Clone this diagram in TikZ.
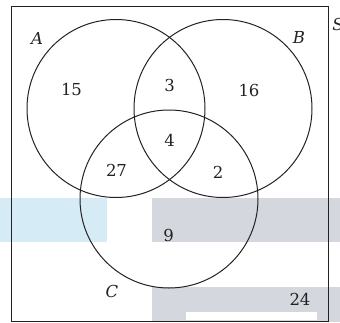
\documentclass[tikz,border=0pt]{standalone}
\usepackage{fontspec}
\setmainfont{DejaVu Serif}
\definecolor{lblue}{RGB}{213,235,245}
\definecolor{lgray}{RGB}{212,216,222}
\definecolor{ink}{RGB}{34,34,34}
\begin{document}
\begin{tikzpicture}[x=1pt,y=-1pt,
  setcircle/.style={draw=ink,line width=1pt},
  lbl/.style={text=ink,font=\fontsize{16.5}{19}\selectfont,inner sep=0pt},
  setname/.style={lbl,font=\fontsize{16.5}{19}\selectfont\itshape}]
\useasboundingbox (0,0) rectangle (340,322);
% background bands
\fill[lblue] (0,197.5) rectangle (107,241.5);
\fill[lgray] (151.5,197.5) rectangle (340,241.5);
\fill[lgray] (151.5,287) rectangle (340,322);
\fill[white] (185.5,312) rectangle (316.5,320);
% universe
\node[draw=ink,line width=1.1pt,minimum width=317pt,minimum height=314.5pt,inner sep=0pt,anchor=north west] (S) at (11,6) {};
% circles
\node[setcircle,circle,minimum size=178pt,inner sep=0pt] (cA) at (116,108.5) {};
\node[setcircle,circle,minimum size=178pt,inner sep=0pt] (cB) at (223,108.5) {};
\node[setcircle,circle,minimum size=178pt,inner sep=0pt] (cC) at (169,199) {};
% labels
\node[setname] (lA) at (37,38) {A};
\node[setname] (lB) at (299,37) {B};
\node[setname] (lS) at (338,24) {S};
\node[setname] (lC) at (112,291) {C};
\node[lbl] (n15) at (71.5,89.5) {15};
\node[lbl] (n3) at (169.5,85) {3};
\node[lbl] (n16) at (249,90) {16};
\node[lbl] (n4) at (169.5,140) {4};
\node[lbl] (n27) at (116.5,170) {27};
\node[lbl] (n2) at (218,172) {2};
\node[lbl] (n9) at (168.5,235) {9};
\node[lbl] (n24) at (300,299.5) {24};
\end{tikzpicture}
\end{document}
